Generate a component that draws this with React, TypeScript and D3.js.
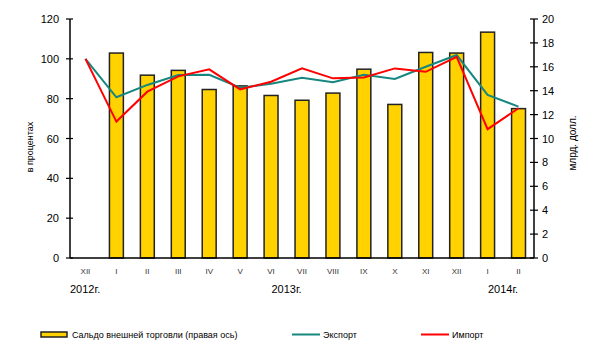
import React from "react";
import * as d3 from "d3";

const months = ["XII", "I", "II", "III", "IV", "V", "VI", "VII", "VIII", "IX", "X", "XI", "XII", "I", "II"];
const balance: (number | null)[] = [null, 17.15, 15.3, 15.7, 14.1, 14.4, 13.6, 13.2, 13.8, 15.8, 12.85, 17.2, 17.15, 18.9, 12.5];
const exportPct = [100, 80.7, 86.9, 91.9, 92, 85.5, 87.5, 90.5, 88.2, 92, 89.9, 96, 101.9, 81.9, 76];
const importPct = [100, 68.5, 83.5, 91.2, 94.7, 84.7, 88.5, 95.2, 90.2, 90.6, 95.2, 93.5, 101, 64.7, 75.2];
const leftTicks = [0, 20, 40, 60, 80, 100, 120];
const rightTicks = [0, 2, 4, 6, 8, 10, 12, 14, 16, 18, 20];
const years = [
  { label: "2012г.", idx: 0, anchor: "start" },
  { label: "2013г.", idx: 6.5, anchor: "middle" },
  { label: "2014г.", idx: 13.5, anchor: "middle" },
];
const legendLabels = ["Сальдо внешней торговли (правая ось)", "Экспорт", "Импорт"];

const W = 600, H = 355;
const left = 70, right = 534, top = 19, bottom = 258;
const FONT = "Liberation Sans, Arial, sans-serif";
const TEAL = "#16877f";
const RED = "#ff0000";
const GOLD = "#ffd200";

export default function App() {
  const x = d3.scaleBand<number>().domain(months.map((_, i) => i)).range([left, right]).paddingInner(0.55).paddingOuter(0.275);
  const xc = (i: number) => left + (right - left) / months.length * (i + 0.5);
  const yL = d3.scaleLinear().domain([0, 120]).range([bottom, top]);
  const yR = d3.scaleLinear().domain([0, 20]).range([bottom, top]);
  const line = d3.line<number>().x((_, i) => xc(i)).y((d) => yL(d));

  return (
    <svg width={W} height={H} style={{ position: "absolute", left: 0, top: 0, background: "#fff" }} fontFamily={FONT}>
      <rect x={0} y={0} width={W} height={H} fill="#fff" />
      {balance.map((v, i) =>
        v == null ? null : (
          <rect key={i} x={x(i)} y={yR(v)} width={x.bandwidth()} height={bottom - yR(v)} fill={GOLD} stroke="#222" strokeWidth={1.5} />
        )
      )}
      <path d={line(exportPct) || ""} fill="none" stroke={TEAL} strokeWidth={2} />
      <path d={line(importPct) || ""} fill="none" stroke={RED} strokeWidth={2} />
      {/* axes */}
      <line x1={left} x2={left} y1={top} y2={bottom} stroke="#000" strokeWidth={1.5} />
      <line x1={right} x2={right} y1={top} y2={bottom} stroke="#000" strokeWidth={1.5} />
      <line x1={left} x2={right} y1={bottom} y2={bottom} stroke="#000" strokeWidth={1.5} />
      {leftTicks.map((t) => (
        <g key={"l" + t}>
          <line x1={left - 4} x2={left + 3} y1={yL(t)} y2={yL(t)} stroke="#000" strokeWidth={1.2} />
          <text x={59} y={yL(t) + 4} textAnchor="end" fontSize={11} fill="#000">{t}</text>
        </g>
      ))}
      {rightTicks.map((t) => (
        <g key={"r" + t}>
          <line x1={right - 4} x2={right + 4} y1={yR(t)} y2={yR(t)} stroke="#000" strokeWidth={1.2} />
          <text x={542} y={yR(t) + 4} textAnchor="start" fontSize={11} fill="#000">{t}</text>
        </g>
      ))}
      {months.map((m, i) => (
        <text key={"m" + i} x={xc(i)} y={274} textAnchor="middle" fontSize={8} fill="#333">{m}</text>
      ))}
      {years.map((yv) => (
        <text key={yv.label} x={yv.anchor === "start" ? left : xc(yv.idx)} y={293} textAnchor={yv.anchor as any} fontSize={11} fill="#000">{yv.label}</text>
      ))}
      <text transform={`translate(33,147) rotate(-90)`} textAnchor="middle" fontSize={9} fill="#000">в процентах</text>
      <text transform={`translate(576,143) rotate(-90)`} textAnchor="middle" fontSize={10} fill="#000">млрд. долл.</text>
      {/* legend */}
      <rect x={41} y={332} width={26} height={5} fill={GOLD} stroke="#222" strokeWidth={1.5} />
      <text x={72} y={338} fontSize={9} fill="#000">{legendLabels[0]}</text>
      <line x1={292} x2={320} y1={334.5} y2={334.5} stroke={TEAL} strokeWidth={2} />
      <text x={323} y={338} fontSize={9} fill="#000">{legendLabels[1]}</text>
      <line x1={421} x2={449} y1={334.5} y2={334.5} stroke={RED} strokeWidth={2} />
      <text x={452} y={338} fontSize={9} fill="#000">{legendLabels[2]}</text>
    </svg>
  );
}
